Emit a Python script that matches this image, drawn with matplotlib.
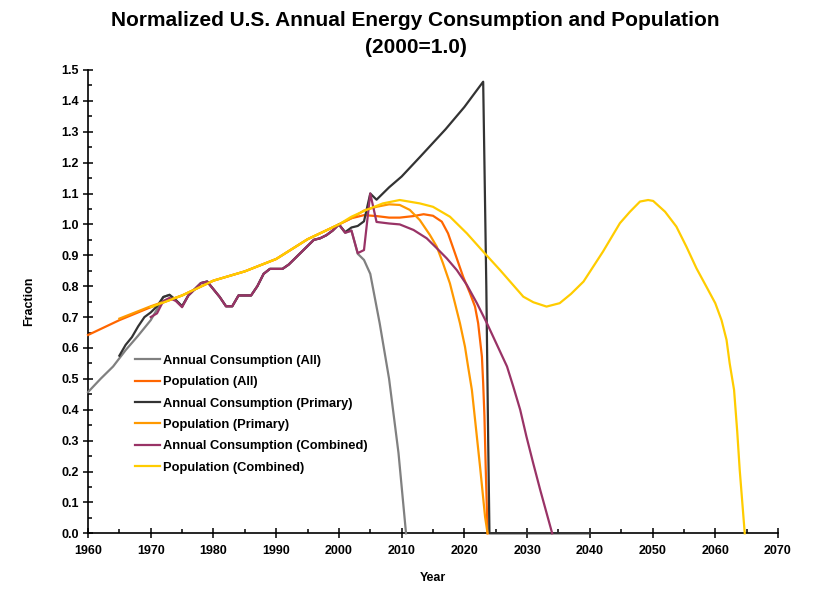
import numpy as np
import matplotlib
matplotlib.use("Agg")
import matplotlib.pyplot as plt
from matplotlib.ticker import MultipleLocator, FormatStrFormatter

plt.rcParams['font.family'] = ['Liberation Sans', 'DejaVu Sans']
plt.rcParams['font.weight'] = 'bold'

# shared history, consumption 1976-2000 (2000 = 1.0)
hist_years = [1976, 1977, 1978, 1979, 1980, 1981, 1982, 1983, 1984, 1985, 1986, 1987, 1988,
              1989, 1990, 1991, 1992, 1993, 1994, 1995, 1996, 1997, 1998, 1999, 2000]
hist_cons = [0.77, 0.79, 0.81, 0.815, 0.79, 0.765, 0.735, 0.735, 0.77, 0.77, 0.77, 0.80, 0.84,
             0.856, 0.856, 0.856, 0.87, 0.89, 0.91, 0.93, 0.95, 0.955, 0.965, 0.98, 1.0]

# population 1960-2000
pop_years = [1960, 1965, 1970, 1975, 1980, 1985, 1990, 1995, 2000]
pop_vals = [0.642, 0.69, 0.732, 0.77, 0.818, 0.848, 0.888, 0.952, 1.0]

# Annual Consumption (All)
all_c_years_a = [1960, 1962, 1964, 1966, 1968, 1970, 1971, 1972, 1973, 1974, 1975]
all_c_vals_a = [0.457, 0.50, 0.54, 0.593, 0.64, 0.69, 0.725, 0.765, 0.772, 0.755, 0.735]
all_c_years_b = [2001, 2002, 2003, 2004, 2005, 2006.5, 2008, 2009.5, 2010.7]
all_c_vals_b = [0.973, 0.98, 0.905, 0.885, 0.84, 0.68, 0.50, 0.26, 0.0]

# Population (All)
all_p_years = [2002, 2004, 2006, 2008, 2009.7, 2011.9, 2013.5, 2015.0, 2016.4, 2017.4, 2018.5,
               2019.8, 2020.9, 2021.7, 2022.2, 2022.5, 2022.8, 2023.0, 2023.2, 2023.4, 2023.7]
all_p_vals = [1.02, 1.03, 1.027, 1.022, 1.022, 1.027, 1.033, 1.028, 1.009, 0.971, 0.907,
              0.831, 0.777, 0.734, 0.68, 0.626, 0.572, 0.486, 0.38, 0.216, 0.0]

# Annual Consumption (Primary)
pri_c_years_a = [1965, 1966, 1967, 1968, 1969, 1970, 1971, 1972, 1973, 1974, 1975]
pri_c_vals_a = [0.575, 0.61, 0.635, 0.67, 0.70, 0.715, 0.735, 0.765, 0.772, 0.755, 0.735]
pri_c_years_b = [2001, 2002, 2003, 2004, 2005, 2006, 2008, 2010, 2013, 2017, 2020, 2023,
                 2023.2, 2023.5, 2023.8, 2024, 2040]
pri_c_vals_b = [0.975, 0.99, 0.995, 1.01, 1.10, 1.08, 1.12, 1.155, 1.22, 1.308, 1.38, 1.462,
                1.2, 0.8, 0.3, 0.0, 0.0]

# Population (Primary)
pri_p_years_a = [1965, 1970]
pri_p_vals_a = [0.695, 0.735]
pri_p_years_b = [2002, 2004, 2006, 2008, 2009.7, 2011.3, 2012.9, 2014.5, 2015.6, 2016.6,
                 2017.7, 2018.5, 2019.3, 2020.1, 2020.6, 2021.2, 2021.8, 2022.5, 2023.3, 2023.7]
pri_p_vals_b = [1.02, 1.045, 1.057, 1.065, 1.063, 1.047, 1.014, 0.966, 0.928, 0.874,
                0.809, 0.745, 0.68, 0.604, 0.539, 0.464, 0.35, 0.216, 0.054, 0.0]

# Annual Consumption (Combined)
com_c_years_a = [1970, 1971, 1972, 1973, 1974, 1975]
com_c_vals_a = [0.70, 0.712, 0.752, 0.762, 0.752, 0.732]
com_c_years_b = [2001, 2002, 2003, 2004, 2005, 2006, 2008, 2009.7, 2011.9, 2014, 2015.6,
                 2017.2, 2018.8, 2020.4, 2022, 2023.6, 2025.2, 2026.8, 2027.8, 2028.9,
                 2029.9, 2031, 2032.1, 2034]
com_c_vals_b = [0.973, 0.98, 0.907, 0.917, 1.10, 1.008, 1.003, 1.0, 0.982, 0.955, 0.923,
                0.89, 0.852, 0.804, 0.745, 0.68, 0.61, 0.54, 0.475, 0.40,
                0.313, 0.225, 0.14, 0.0]

# Population (Combined)
com_p_years = [2002, 2004.4, 2007, 2009.7, 2012.9, 2015, 2017.7, 2020.4, 2023, 2025.7,
               2029.4, 2031, 2033.1, 2035.2, 2037, 2039, 2042.1, 2044.8, 2046.4, 2048,
               2049.3, 2050.1, 2052, 2053.8, 2055.4, 2057, 2058.6, 2060, 2061, 2061.8,
               2062.3, 2063, 2063.5, 2063.9, 2064.7]
com_p_vals = [1.025, 1.047, 1.068, 1.079, 1.068, 1.057, 1.025, 0.971, 0.912, 0.852,
              0.766, 0.748, 0.734, 0.745, 0.775, 0.815, 0.912, 1.004, 1.041, 1.074,
              1.079, 1.076, 1.041, 0.993, 0.928, 0.858, 0.798, 0.745, 0.69, 0.626,
              0.55, 0.464, 0.33, 0.205, 0.0]

series = [
    ("Annual Consumption (All)", "#808080",
     all_c_years_a + hist_years + all_c_years_b, all_c_vals_a + hist_cons + all_c_vals_b),
    ("Population (All)", "#FF6600",
     pop_years + all_p_years, pop_vals + all_p_vals),
    ("Annual Consumption (Primary)", "#333333",
     pri_c_years_a + hist_years + pri_c_years_b, pri_c_vals_a + hist_cons + pri_c_vals_b),
    ("Population (Primary)", "#FF9900",
     pri_p_years_a + pop_years[3:] + pri_p_years_b, pri_p_vals_a + pop_vals[3:] + pri_p_vals_b),
    ("Annual Consumption (Combined)", "#993366",
     com_c_years_a + hist_years + com_c_years_b, com_c_vals_a + hist_cons + com_c_vals_b),
    ("Population (Combined)", "#FFCC00",
     pop_years[2:] + com_p_years, pop_vals[2:] + com_p_vals),
]

fig = plt.figure(figsize=(8.31, 5.94), dpi=100)
ax = fig.add_axes([0.1059, 0.1022, 0.8303, 0.78])

for label, color, xs, ys in series:
    ax.plot(xs, ys, color=color, lw=1.6, label=label, clip_on=False, zorder=3)

ax.set_xlim(1960, 2070)
ax.set_ylim(0, 1.5)
ax.xaxis.set_major_locator(MultipleLocator(10))
ax.xaxis.set_minor_locator(MultipleLocator(5))
ax.yaxis.set_major_locator(MultipleLocator(0.1))
ax.yaxis.set_minor_locator(MultipleLocator(0.05))
ax.yaxis.set_major_formatter(FormatStrFormatter('%.1f'))

for s in ['top', 'right']:
    ax.spines[s].set_visible(False)
for s in ['left', 'bottom']:
    ax.spines[s].set_linewidth(1.2)

ax.tick_params(which='major', direction='inout', length=7, width=1.1, labelsize=9, pad=3)
ax.tick_params(which='minor', direction='in', length=3, width=1.1)
ax.tick_params(axis='x', which='major', pad=5)
for t in ax.get_xticklabels() + ax.get_yticklabels():
    t.set_fontweight('bold')

ax.set_xlabel("Year", fontsize=9, fontweight='bold', labelpad=11)
ax.set_ylabel("Fraction", fontsize=9, fontweight='bold', labelpad=19)

fig.text(0.5, 0.965, "Normalized U.S. Annual Energy Consumption and Population",
         ha='center', va='center', fontsize=15, fontweight='bold')
fig.text(0.5, 0.92, "(2000=1.0)", ha='center', va='center', fontsize=15, fontweight='bold')

leg = ax.legend(loc='upper left', bbox_to_anchor=(0.068, 0.385), frameon=False,
                fontsize=9.3, handlelength=1.95, handletextpad=0.2, labelspacing=0.72,
                borderpad=0, borderaxespad=0)
for t in leg.get_texts():
    t.set_fontweight('bold')

fig.savefig("out.png", dpi=100)
